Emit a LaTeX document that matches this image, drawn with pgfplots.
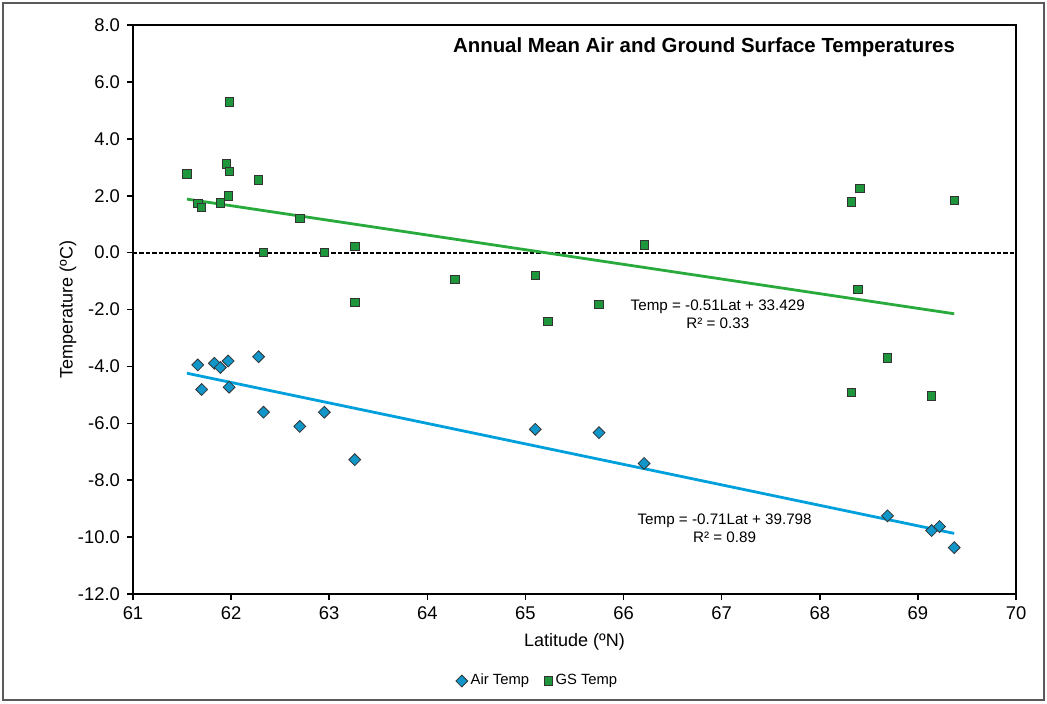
\documentclass[border=0pt]{standalone}
\usepackage{pgfplots}
\pgfplotsset{compat=1.18}
\usepackage{fontspec}
\setmainfont{Liberation Sans}
\definecolor{airfill}{RGB}{16,150,200}
\definecolor{airline}{RGB}{0,160,220}
\definecolor{gsfill}{RGB}{30,150,60}
\definecolor{gsline}{RGB}{40,170,60}
\definecolor{frameclr}{RGB}{90,90,90}

\pgfplotstableread{
lat temp
61.66 -3.95
61.83 -3.89
61.89 -4.04
61.97 -3.81
62.28 -3.66
61.70 -4.81
61.98 -4.73
62.33 -5.61
62.70 -6.11
62.95 -5.61
63.26 -7.28
65.10 -6.21
65.75 -6.33
66.21 -7.41
68.69 -9.25
69.14 -9.77
69.22 -9.63
69.37 -10.37
}\airdata

\pgfplotstableread{
lat temp
61.98 5.30
61.55 2.76
61.95 3.12
61.98 2.86
62.28 2.55
61.66 1.72
61.70 1.58
61.89 1.75
61.97 2.00
62.70 1.21
63.26 0.21
62.33 0.00
62.95 0.00
64.28 -0.95
65.10 -0.80
63.26 -1.74
65.75 -1.82
65.23 -2.42
66.21 0.27
68.41 2.26
68.32 1.78
69.37 1.83
68.39 -1.29
68.69 -3.70
68.32 -4.91
69.14 -5.04
}\gsdata

\begin{document}
\begin{tikzpicture}
\useasboundingbox (-66.5pt,-54.5pt) rectangle (457pt,297pt);
\draw[frameclr, line width=0.8pt] (-65pt,-53pt) rectangle (455.5pt,295.5pt);
\begin{axis}[
  at={(0pt,0pt)}, anchor=south west,
  scale only axis, width=441.5pt, height=284.5pt,
  xmin=61, xmax=70, ymin=-12, ymax=8,
  xtick={61,62,...,70}, ytick={-12,-10,...,8},
  axis line style={line width=1pt},
  tick style={black, line width=0.8pt},
  tick align=outside, major tick length=3pt,
  xtick pos=bottom, ytick pos=left,
  /pgf/number format/assume math mode=true,
  y tick label style={/pgf/number format/fixed, /pgf/number format/fixed zerofill, /pgf/number format/precision=1},
  ticklabel style={font=\fontsize{9.2}{10}\selectfont},
  label style={font=\fontsize{9}{10}\selectfont},
  xlabel={Latitude (ºN)}, ylabel={Temperature (ºC)},
  xlabel style={at={(axis description cs:0.5,-0.0844)}, anchor=center},
  ylabel style={at={(axis description cs:-0.0736,0.5)}, anchor=center},
  legend style={at={(0.4587,-0.1529)}, anchor=center, draw=none, fill=none,
    legend columns=2, font=\fontsize{7.4}{8}\selectfont,
    /tikz/every even column/.append style={column sep=6pt},
    nodes={inner xsep=1.5pt},
    inner sep=0pt},
  legend image code/.code={\draw[mark repeat=2,mark phase=2,#1] plot coordinates {(0pt,0pt)(3pt,0pt)(6pt,0pt)};},
]
\addplot[black, line width=1pt, dash pattern=on 2.2pt off 1pt, forget plot] coordinates {(61,0) (70,0)};
\addplot[gsline, line width=1.4pt, forget plot] coordinates {(61.55,1.88) (69.37,-2.15)};
\addplot[airline, line width=1.4pt, forget plot] coordinates {(61.55,-4.24) (69.37,-9.87)};
\addplot[only marks, mark=square*, mark size=2.1pt, mark options={rotate=45, fill=airfill, draw=black!80, line width=0.4pt}] table[x=lat,y=temp] {\airdata};
\addlegendentry{Air Temp}
\addplot[only marks, mark=square*, mark size=2.1pt, mark options={fill=gsfill, draw=black!80, line width=0.4pt}] table[x=lat,y=temp] {\gsdata};
\addlegendentry{GS Temp}
\node[font=\bfseries\fontsize{10.2}{12}\selectfont] at (axis cs:66.82,7.23) {Annual Mean Air and Ground Surface Temperatures};
\node[font=\fontsize{7.6}{8.85}\selectfont, align=center] at (axis cs:66.96,-2.16) {Temp = -0.51Lat + 33.429\\R² = 0.33};
\node[font=\fontsize{7.6}{8.85}\selectfont, align=center] at (axis cs:67.03,-9.68) {Temp = -0.71Lat + 39.798\\R² = 0.89};
\end{axis}
\end{tikzpicture}
\end{document}
